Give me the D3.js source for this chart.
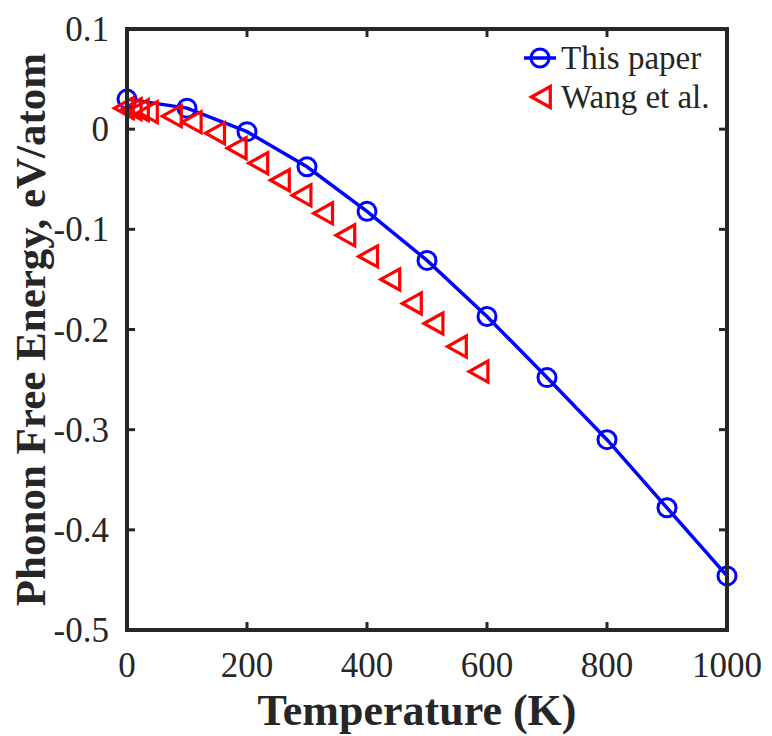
<!DOCTYPE html>
<html>
<head>
<meta charset="utf-8">
<script src="https://cdn.jsdelivr.net/npm/d3@7"></script>
<style>
  body { margin: 0; background: #fff; }
  text { font-family: "Liberation Serif", "Times New Roman", serif; fill: #262626; }
</style>
</head>
<body>
<div id="chart"></div>
<script>
  const width = 772;
  const height = 736;
  const margin = {top: 29, right: 45, bottom: 106, left: 127};

  // This paper (circles + line)
  const paperT = [0, 100, 200, 300, 400, 500, 600, 700, 800, 900, 1000];
  const paperF = [0.030, 0.021, -0.0025, -0.0375, -0.082, -0.131, -0.187, -0.248, -0.310, -0.378, -0.446];

  // Wang et al. (triangles)
  const wangT = [0, 13, 25, 40, 80, 113, 152, 188, 224, 260, 296, 332, 369, 407, 444, 480, 516, 555, 591];
  const wangF = [0.021, 0.020, 0.019, 0.017, 0.013, 0.007, -0.004, -0.019, -0.034, -0.051, -0.066, -0.084, -0.106, -0.127, -0.150, -0.174, -0.194, -0.217, -0.242];

  const xTicks = [0, 200, 400, 600, 800, 1000];
  const yTicks = [0.1, 0, -0.1, -0.2, -0.3, -0.4, -0.5];

  const axisColor = "#262626";
  const blue = "#0000ff";
  const red = "#ff0000";

  const svg = d3.select("#chart").append("svg")
    .attr("width", width)
    .attr("height", height);

  const iw = width - margin.left - margin.right;
  const ih = height - margin.top - margin.bottom;

  const x = d3.scaleLinear().domain([0, 1000]).range([0, iw]);
  const y = d3.scaleLinear().domain([-0.5, 0.1]).range([ih, 0]);

  const g = svg.append("g")
    .attr("transform", "translate(" + margin.left + "," + margin.top + ")");

  // data
  const paper = paperT.map((t, i) => ({t: t, f: paperF[i]}));
  const wang = wangT.map((t, i) => ({t: t, f: wangF[i]}));

  const line = d3.line()
    .x(d => x(d.t))
    .y(d => y(d.f));

  g.append("path")
    .datum(paper)
    .attr("d", line)
    .style("fill", "none")
    .style("stroke", blue)
    .style("stroke-width", 3.5);

  g.selectAll("circle.paper")
    .data(paper)
    .enter()
    .append("circle")
    .attr("class", "paper")
    .attr("cx", d => x(d.t))
    .attr("cy", d => y(d.f))
    .attr("r", 9)
    .style("fill", "none")
    .style("stroke", blue)
    .style("stroke-width", 3);

  // left-pointing triangle, centroid at the data point
  const tri = "M-12.6,0L6.3,-10.5L6.3,10.5Z";

  g.selectAll("path.wang")
    .data(wang)
    .enter()
    .append("path")
    .attr("class", "wang")
    .attr("d", tri)
    .attr("transform", d => "translate(" + x(d.t) + "," + y(d.f) + ")")
    .style("fill", "none")
    .style("stroke", red)
    .style("stroke-width", 3.2)
    .style("stroke-linejoin", "miter");

  // box and ticks
  const tickLen = 8;
  const axes = g.append("g");

  axes.selectAll("line.xt")
    .data(xTicks)
    .enter()
    .append("line")
    .attr("x1", d => x(d)).attr("x2", d => x(d))
    .attr("y1", ih).attr("y2", ih - tickLen)
    .style("stroke", axisColor).style("stroke-width", 3);

  axes.selectAll("line.xtt")
    .data(xTicks)
    .enter()
    .append("line")
    .attr("x1", d => x(d)).attr("x2", d => x(d))
    .attr("y1", 0).attr("y2", tickLen)
    .style("stroke", axisColor).style("stroke-width", 3);

  axes.selectAll("line.yt")
    .data(yTicks)
    .enter()
    .append("line")
    .attr("x1", 0).attr("x2", tickLen)
    .attr("y1", d => y(d)).attr("y2", d => y(d))
    .style("stroke", axisColor).style("stroke-width", 3);

  axes.selectAll("line.ytr")
    .data(yTicks)
    .enter()
    .append("line")
    .attr("x1", iw).attr("x2", iw - tickLen)
    .attr("y1", d => y(d)).attr("y2", d => y(d))
    .style("stroke", axisColor).style("stroke-width", 3);

  axes.append("rect")
    .attr("x", 0).attr("y", 0)
    .attr("width", iw).attr("height", ih)
    .style("fill", "none")
    .style("stroke", axisColor)
    .style("stroke-width", 4);

  // tick labels
  const yFmt = d => d === 0 ? "0" : d3.format(".1f")(d).replace("−", "-");

  g.selectAll("text.xl")
    .data(xTicks)
    .enter()
    .append("text")
    .attr("x", d => x(d))
    .attr("y", ih + 47)
    .attr("text-anchor", "middle")
    .style("font-size", "35px")
    .text(d => d);

  g.selectAll("text.yl")
    .data(yTicks)
    .enter()
    .append("text")
    .attr("x", -18)
    .attr("y", d => y(d) + 12)
    .attr("text-anchor", "end")
    .style("font-size", "35px")
    .text(yFmt);

  // axis titles
  svg.append("text")
    .attr("x", margin.left + iw / 2 - 10)
    .attr("y", 725)
    .attr("text-anchor", "middle")
    .style("font-size", "44px")
    .style("font-weight", "bold")
    .text("Temperature (K)");

  svg.append("text")
    .attr("transform", "translate(45," + (margin.top + ih / 2) + ") rotate(-90)")
    .attr("text-anchor", "middle")
    .style("font-size", "43px")
    .style("font-weight", "bold")
    .text("Phonon Free Energy, eV/atom");

  // legend
  const lg = svg.append("g").attr("transform", "translate(524,58)");
  lg.append("line")
    .attr("x1", 0).attr("x2", 32)
    .attr("y1", 0).attr("y2", 0)
    .style("stroke", blue).style("stroke-width", 3.5);
  lg.append("circle")
    .attr("cx", 16).attr("cy", 0).attr("r", 9)
    .style("fill", "none").style("stroke", blue).style("stroke-width", 3);
  lg.append("text")
    .attr("x", 37).attr("y", 11)
    .style("font-size", "33px")
    .text("This paper");

  lg.append("path")
    .attr("d", tri)
    .attr("transform", "translate(20,39)")
    .style("fill", "none").style("stroke", red).style("stroke-width", 3.2);
  lg.append("text")
    .attr("x", 37).attr("y", 50)
    .style("font-size", "33px")
    .text("Wang et al.");
</script>
</body>
</html>
